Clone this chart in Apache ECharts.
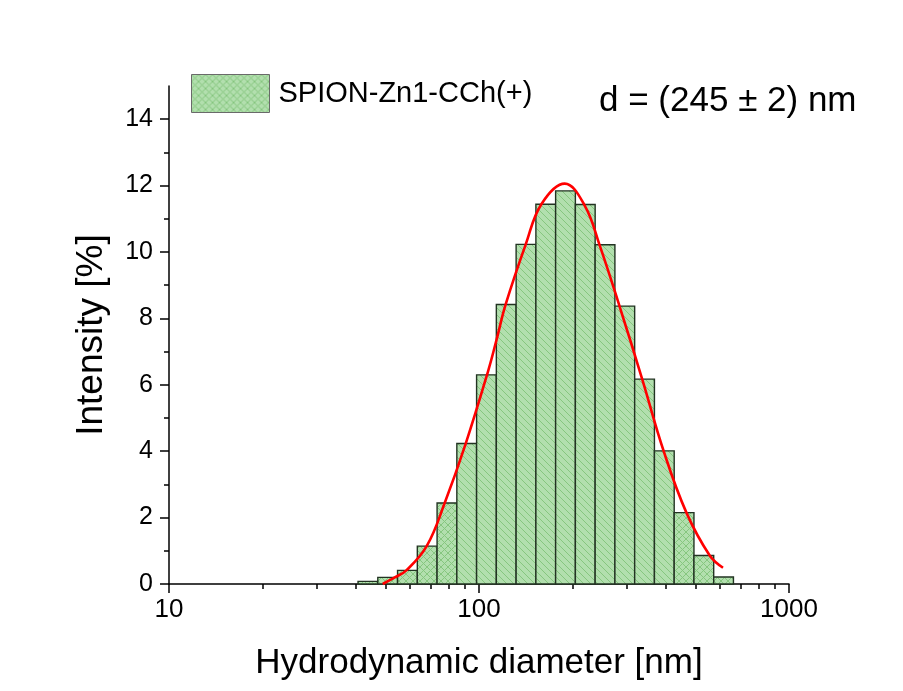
<!DOCTYPE html>
<html>
<head>
<meta charset="utf-8">
<title>SPION-Zn1-CCh(+) size distribution</title>
<script src="https://cdn.jsdelivr.net/npm/echarts@6.0.0/dist/echarts.min.js"></script>
<style>
  html, body { margin: 0; padding: 0; background: #fff; }
  #chart { width: 903px; height: 691px; }
</style>
</head>
<body>
<div id="chart"></div>
<script>
// size classes (nm, bar centres) and intensity (%)
const sizes = [43.82, 50.75, 58.77, 68.06, 78.82, 91.28, 105.7, 122.4, 141.8, 164.2,
  190.1, 220.2, 255.0, 295.3, 342.0, 396.1, 458.7, 531.2, 615.1];
const intensity = [0.08, 0.2, 0.41, 1.14, 2.44, 4.23, 6.3, 8.42, 10.23, 11.44,
  11.84, 11.43, 10.22, 8.37, 6.17, 4.01, 2.15, 0.86, 0.21];

// red fit curve
const fitX = [48.9, 53.5, 58.3, 67.8, 77.5, 90.6, 106.9, 113.8, 121.9, 141.5, 158.9,
  189.0, 219.3, 245.1, 284.4, 336.6, 394.3, 466.7, 554.9, 612.5];
const fitY = [0.0, 0.2, 0.41, 1.14, 2.44, 4.23, 6.4, 7.34, 8.42, 10.23, 11.44,
  12.06, 11.4, 10.2, 8.35, 6.15, 4.0, 2.15, 0.86, 0.49];

const xLabels = [10, 100, 1000];
const xMinor = [20, 30, 40, 50, 60, 70, 80, 90, 200, 300, 400, 500, 600, 700, 800, 900];
const yLabels = [0, 2, 4, 6, 8, 10, 12, 14];
const yMinor = [1, 3, 5, 7, 9, 11, 13];

const seriesName = 'SPION-Zn1-CCh(+)';
const FONT = '"Liberation Sans", Arial, sans-serif';

// bar edges: geometric midpoints between neighbouring size classes
const bins = sizes.map((s, i) => {
  const lo = i > 0 ? Math.sqrt(sizes[i - 1] * s) : s / Math.sqrt(sizes[1] / sizes[0]);
  const hi = i < sizes.length - 1 ? Math.sqrt(sizes[i + 1] * s) : s * Math.sqrt(s / sizes[i - 1]);
  return [lo, hi, intensity[i]];
});

function hatch(cross) {
  const n = 7;
  const c = document.createElement('canvas');
  c.width = c.height = n;
  const g = c.getContext('2d');
  g.fillStyle = '#b2dfae';
  g.fillRect(0, 0, n, n);
  g.strokeStyle = '#86c67f';
  g.lineWidth = 1;
  g.beginPath();
  g.moveTo(-1, -1); g.lineTo(n + 1, n + 1);
  g.moveTo(-1, n - 1); g.lineTo(1, n + 1);
  g.moveTo(n - 1, -1); g.lineTo(n + 1, 1);
  if (cross) {
    g.moveTo(-1, n + 1); g.lineTo(n + 1, -1);
    g.moveTo(-1, 1); g.lineTo(1, -1);
    g.moveTo(n - 1, n + 1); g.lineTo(n + 1, n - 1);
  }
  g.stroke();
  return { image: c, repeat: 'repeat' };
}
const singleFill = hatch(false);
const crossFill = hatch(true);

const chart = echarts.init(document.getElementById('chart'), null, { renderer: 'canvas' });

const gridBox = { left: 169, top: 86, width: 620, height: 498 };

const option = {
  backgroundColor: '#ffffff',
  animation: false,
  textStyle: { fontFamily: FONT, color: '#000' },
  grid: [gridBox, gridBox],
  legend: {
    left: 191,
    top: 74,
    padding: 0,
    itemWidth: 78,
    itemHeight: 38,
    selectedMode: false,
    textStyle: { fontFamily: FONT, fontSize: 29, color: '#000', padding: [0, 0, 0, 4] },
    data: [{
      name: seriesName,
      icon: 'rect',
      itemStyle: { color: crossFill, borderColor: '#6a6a6a', borderWidth: 1 }
    }]
  },
  graphic: [{
    type: 'text',
    x: 599,
    y: 101,
    style: {
      text: 'd = (245 ± 2) nm',
      font: '35px ' + FONT,
      fill: '#000',
      verticalAlign: 'middle'
    }
  }],
  xAxis: [{
    type: 'log',
    logBase: 10,
    min: 10,
    max: 1000,
    gridIndex: 0,
    name: 'Hydrodynamic diameter [nm]',
    nameLocation: 'middle',
    nameGap: 62,
    nameTextStyle: { fontFamily: FONT, fontSize: 35, color: '#000' },
    axisLine: { lineStyle: { color: '#000', width: 1.5 } },
    axisTick: { customValues: xLabels, length: 9, lineStyle: { color: '#000', width: 1.5 } },
    axisLabel: {
      customValues: xLabels, fontFamily: FONT, fontSize: 26, color: '#000', margin: 13,
      formatter: v => String(v)
    },
    splitLine: { show: false }
  }, {
    type: 'log',
    logBase: 10,
    min: 10,
    max: 1000,
    gridIndex: 1,
    axisLine: { show: false },
    axisTick: { customValues: xMinor, length: 5, lineStyle: { color: '#000', width: 1.5 } },
    axisLabel: { show: false },
    splitLine: { show: false }
  }],
  yAxis: [{
    type: 'value',
    min: 0,
    max: 15,
    gridIndex: 0,
    name: 'Intensity [%]',
    nameLocation: 'middle',
    nameGap: 59,
    nameTextStyle: { fontFamily: FONT, fontSize: 37, color: '#000' },
    axisLine: { show: true, lineStyle: { color: '#000', width: 1.5 } },
    axisTick: { show: true, customValues: yLabels, length: 9, lineStyle: { color: '#000', width: 1.5 } },
    axisLabel: { customValues: yLabels, fontFamily: FONT, fontSize: 25, color: '#000', margin: 16 },
    splitLine: { show: false }
  }, {
    type: 'value',
    min: 0,
    max: 15,
    gridIndex: 1,
    axisLine: { show: false },
    axisTick: { show: true, customValues: yMinor, length: 5, lineStyle: { color: '#000', width: 1.5 } },
    axisLabel: { show: false },
    splitLine: { show: false }
  }],
  series: [{
    name: seriesName,
    type: 'custom',
    xAxisIndex: 0,
    yAxisIndex: 0,
    encode: { x: [0, 1], y: 2 },
    data: bins,
    renderItem: function (params, api) {
      const p0 = api.coord([api.value(0), 0]);
      const p1 = api.coord([api.value(1), api.value(2)]);
      return {
        type: 'rect',
        shape: { x: p0[0], y: p1[1], width: p1[0] - p0[0], height: p0[1] - p1[1] },
        style: {
          fill: api.value(2) < 3 ? crossFill : singleFill,
          stroke: '#223322',
          lineWidth: 1.4
        }
      };
    }
  }, {
    name: 'fit',
    type: 'line',
    xAxisIndex: 0,
    yAxisIndex: 0,
    data: fitX.map((x, i) => [x, fitY[i]]),
    smooth: 0.4,
    showSymbol: false,
    lineStyle: { color: '#ff0000', width: 2.6 },
    z: 5
  }]
};

chart.setOption(option);
</script>
</body>
</html>
